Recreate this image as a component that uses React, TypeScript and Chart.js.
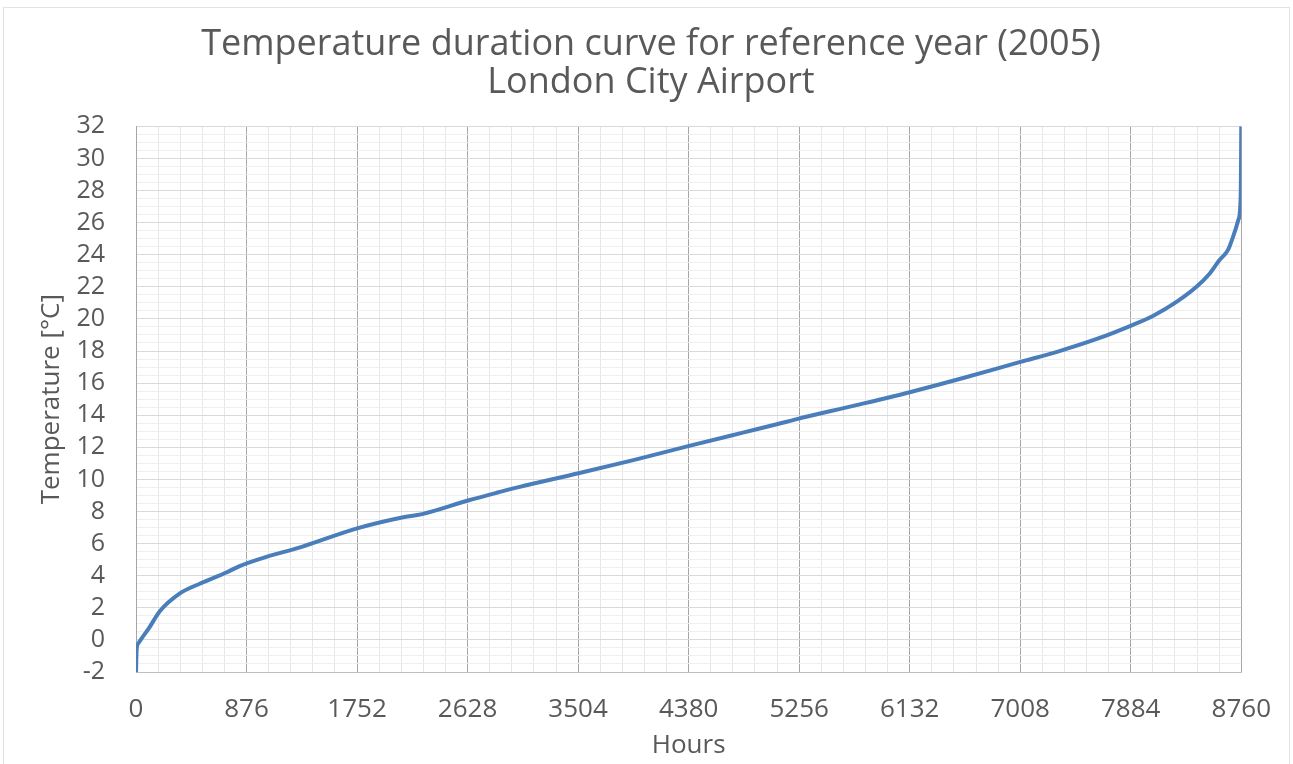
import React, { useEffect, useRef } from "react";
import { Chart, registerables } from "chart.js";

Chart.register(...registerables);

const titleLines = ["Temperature duration curve for reference year (2005)", "London City Airport"];
const xAxisTitle = "Hours";
const yAxisTitle = "Temperature [°C]";

const xMin = 0;
const xMax = 8760;
const xMajorStep = 876;
const xMinorDivisions = 5;
const yMin = -2;
const yMax = 32;
const yMajorStep = 2;
const yMinorStep = 0.5;

const hours = [
  0, 5, 20, 45, 100, 190, 348, 505, 716, 821, 1003, 1314, 1752, 2109, 2267, 2638, 2875, 3033,
  3507, 3942, 4376, 4818, 5087, 5245, 5694, 6140, 6570, 7009, 7300, 7615, 7892, 8063, 8247,
  8405, 8507, 8586, 8655, 8694, 8734, 8752, 8757, 8760,
];
const temps = [
  -2, -0.6, -0.2, 0.1, 0.7, 1.8, 2.9, 3.5, 4.2, 4.6, 5.1, 5.8, 6.95, 7.63, 7.84, 8.7, 9.2, 9.52,
  10.38, 11.2, 12.07, 12.93, 13.45, 13.77, 14.6, 15.45, 16.35, 17.32, 17.95, 18.75, 19.6, 20.2, 21.06,
  22.0, 22.8, 23.65, 24.3, 25.1, 26.1, 27.0, 28.5, 32,
];

const textColor = "#595959";
const lineColor = "#4a7ebb";
const fontFamily = "'Open Sans', sans-serif";

export default function App() {
  const canvasRef = useRef<HTMLCanvasElement | null>(null);

  useEffect(() => {
    const canvas = canvasRef.current;
    if (!canvas) return;
    const points = hours.map((h, i) => ({ x: h, y: temps[i] }));
    const xMinorStep = xMajorStep / xMinorDivisions;
    const nX = Math.round((xMax - xMin) / xMinorStep);
    const nY = Math.round((yMax - yMin) / yMinorStep);

    const chart = new Chart(canvas, {
      type: "scatter",
      data: {
        datasets: [
          {
            data: points,
            showLine: true,
            borderColor: lineColor,
            backgroundColor: lineColor,
            borderWidth: 4,
            pointRadius: 0,
            cubicInterpolationMode: "monotone",
          },
        ],
      },
      options: {
        animation: false,
        responsive: false,
        maintainAspectRatio: false,
        layout: { padding: { left: 9, right: 0, top: 0, bottom: 0 } },
        plugins: {
          legend: { display: false },
          tooltip: { enabled: false },
          title: {
            display: true,
            text: titleLines,
            color: textColor,
            font: { family: fontFamily, size: 36, weight: "normal", lineHeight: 1.06 },
            padding: { top: 26, bottom: 24 },
          },
        },
        scales: {
          x: {
            type: "linear",
            min: xMin,
            max: xMax,
            afterBuildTicks: (scale: any) => {
              scale.ticks = Array.from({ length: nX + 1 }, (_, i) => ({
                value: xMin + (i * (xMax - xMin)) / nX,
              }));
            },
            afterFit: (scale: any) => {
              scale.height = 92;
            },
            ticks: {
              autoSkip: false,
              maxRotation: 0,
              minRotation: 0,
              padding: 22,
              color: textColor,
              font: { family: fontFamily, size: 26 },
              callback: (v: any) => (Math.abs(v % xMajorStep) < 1e-6 ? String(v) : ""),
            },
            grid: {
              drawTicks: false,
              lineWidth: 1,
              color: (ctx: any) =>
                ctx.tick && Math.abs(ctx.tick.value % xMajorStep) < 1e-6 ? "#a6a6a6" : "#e6e6e6",
            },
            border: { display: true, color: "#bfbfbf", width: 1 },
            title: {
              display: true,
              text: xAxisTitle,
              color: textColor,
              font: { family: fontFamily, size: 26 },
              padding: { top: 0, bottom: 3 },
            },
          },
          y: {
            type: "linear",
            min: yMin,
            max: yMax,
            afterBuildTicks: (scale: any) => {
              scale.ticks = Array.from({ length: nY + 1 }, (_, i) => ({
                value: yMin + i * yMinorStep,
              }));
            },
            afterFit: (scale: any) => {
              scale.width = 127;
            },
            ticks: {
              autoSkip: false,
              padding: 31,
              color: textColor,
              font: { family: fontFamily, size: 25 },
              callback: (v: any) => (Math.abs(v % yMajorStep) < 1e-6 ? String(v) : ""),
            },
            grid: {
              drawTicks: false,
              lineWidth: 1,
              color: (ctx: any) =>
                ctx.tick && Math.abs(ctx.tick.value % yMajorStep) < 1e-6 ? "#d9d9d9" : "#efefef",
            },
            border: { display: true, color: "#a6a6a6", width: 1 },
            title: {
              display: true,
              text: yAxisTitle,
              color: textColor,
              font: { family: fontFamily, size: 26 },
              padding: { top: 27, bottom: 0 },
            },
          },
          yRightSpace: {
            type: "linear",
            position: "right",
            display: true,
            min: yMin,
            max: yMax,
            afterFit: (scale: any) => {
              scale.width = 48;
            },
            ticks: { display: false },
            grid: { display: false, drawTicks: false },
            border: { display: false },
          },
        },
      },
    });
    return () => chart.destroy();
  }, []);

  return (
    <div style={{ position: "fixed", left: 0, top: 0, width: 1293, height: 764, background: "#ffffff" }}>
      <div
        style={{
          position: "absolute",
          left: 3,
          top: 7,
          right: 3,
          bottom: 0,
          borderTop: "1px solid #e2e2e2",
          borderLeft: "1px solid #e2e2e2",
          borderRight: "1px solid #e2e2e2",
        }}
      />
      <canvas ref={canvasRef} width={1293} height={764} style={{ position: "absolute", left: 0, top: 0 }} />
    </div>
  );
}
